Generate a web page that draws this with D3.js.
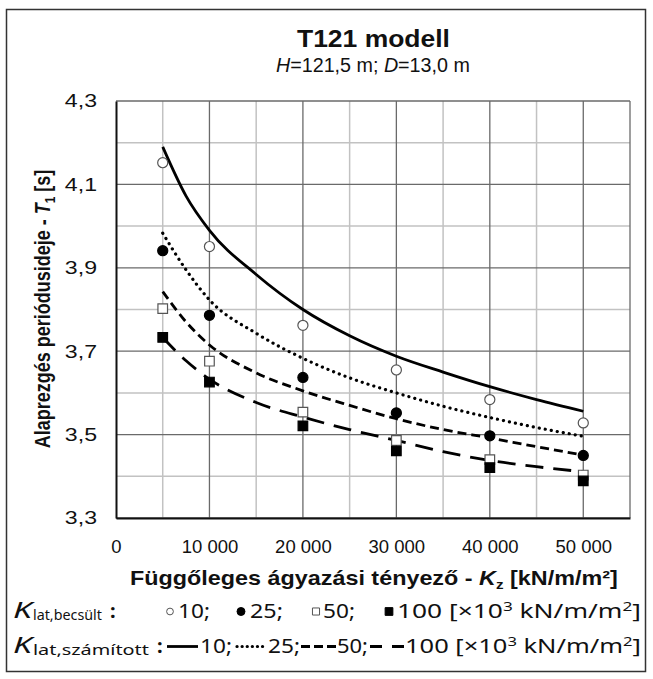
<!DOCTYPE html>
<html>
<head>
<meta charset="utf-8">
<script src="https://cdn.jsdelivr.net/npm/d3@7"></script>
<style>
  body { margin: 0; background: #fff; }
  text { font-family: "Liberation Sans", Arial, sans-serif; fill: #111; }
  .leg text { font-family: "Noto Sans", "Open Sans", sans-serif; }
</style>
</head>
<body>
<div id="chart"></div>
<script>
// measured points (K_lat,becsült)
const kzPoints = [5000, 10000, 20000, 30000, 40000, 50000];
const est10  = [4.152, 3.951, 3.762, 3.655, 3.584, 3.528];
const est25  = [3.941, 3.786, 3.637, 3.552, 3.497, 3.450];
const est50  = [3.802, 3.676, 3.554, 3.486, 3.440, 3.403];
const est100 = [3.733, 3.626, 3.521, 3.461, 3.421, 3.389];

// calculated curves (K_lat,számított)
const kzCurve = [5000, 7500, 10000, 15000, 20000, 25000, 30000, 35000, 40000, 45000, 50000];
const calc10  = [4.190, 4.072, 3.990, 3.884, 3.800, 3.737, 3.688, 3.650, 3.615, 3.584, 3.556];
const calc25  = [3.983, 3.895, 3.823, 3.743, 3.683, 3.636, 3.600, 3.568, 3.541, 3.517, 3.496];
const calc50  = [3.843, 3.770, 3.715, 3.648, 3.605, 3.570, 3.538, 3.512, 3.492, 3.471, 3.451];
const calc100 = [3.733, 3.677, 3.633, 3.577, 3.542, 3.512, 3.486, 3.459, 3.438, 3.423, 3.411];

const xTickValues = [0, 10000, 20000, 30000, 40000, 50000];
const xTickLabels = ["0", "10 000", "20 000", "30 000", "40 000", "50 000"];
const yTickValues = [3.3, 3.5, 3.7, 3.9, 4.1, 4.3];
const yTickLabels = ["3,3", "3,5", "3,7", "3,9", "4,1", "4,3"];
const legendValues = ["10;", "25;", "50;", "100"];

const W = 653, H = 679;
const svg = d3.select("#chart").append("svg")
    .attr("width", W)
    .attr("height", H)

// stretch a text horizontally so it covers x0..x1
function fit(sel, x0, x1, yy) {
  const w = sel.node().getComputedTextLength()
  sel.attr("x", 0).attr("y", 0)
     .attr("transform", `translate(${x0}, ${yy}) scale(${(x1 - x0) / w}, 1)`)
  return sel
}

// outer frame
svg.append("rect")
    .attr("x", 6.5).attr("y", 9.5)
    .attr("width", 639).attr("height", 662)
    .attr("fill", "none").attr("stroke", "#333").attr("stroke-width", 1.5)

const x = d3.scaleLinear().domain([0, 55000]).range([116, 630])
const y = d3.scaleLinear().domain([3.3, 4.3]).range([518, 101])

// grid: minor then major
const g = svg.append("g")
g.selectAll(".vminor").data(d3.range(5000, 55000, 10000)).enter().append("line")
    .attr("x1", d => x(d)).attr("x2", d => x(d)).attr("y1", y(3.3)).attr("y2", y(4.3))
    .attr("stroke", "#c2c2c2").attr("stroke-width", 1.5)
g.selectAll(".hminor").data(d3.range(3.4, 4.3, 0.2)).enter().append("line")
    .attr("y1", d => y(d)).attr("y2", d => y(d)).attr("x1", x(0)).attr("x2", x(55000))
    .attr("stroke", "#c2c2c2").attr("stroke-width", 1.5)
g.selectAll(".vmajor").data([10000, 20000, 30000, 40000, 50000, 55000]).enter().append("line")
    .attr("x1", d => x(d)).attr("x2", d => x(d)).attr("y1", y(3.3)).attr("y2", y(4.3))
    .attr("stroke", "#6a6a6a").attr("stroke-width", 1.3)
g.selectAll(".hmajor").data(yTickValues).enter().append("line")
    .attr("y1", d => y(d)).attr("y2", d => y(d)).attr("x1", x(0)).attr("x2", x(55000))
    .attr("stroke", "#6a6a6a").attr("stroke-width", 1.3)

// axes
const xAxisCall = d3.axisBottom(x)
    .tickValues(xTickValues)
    .tickSize(0)
    .tickFormat((d, i) => xTickLabels[i])
svg.append("g")
    .attr("class", "x axis")
    .attr("transform", `translate(0, ${y(3.3)})`)
    .call(xAxisCall)
    .call(a => a.select(".domain").attr("stroke", "#111").attr("stroke-width", 2))
    .selectAll("text")
    .attr("y", 22)
    .attr("font-size", 18.5)
    .attr("font-family", "Liberation Sans, Arial, sans-serif")
    .attr("fill", "#111")

const yAxisCall = d3.axisLeft(y)
    .tickValues(yTickValues)
    .tickSize(0)
    .tickFormat((d, i) => yTickLabels[i])
svg.append("g")
    .attr("class", "y axis")
    .attr("transform", `translate(${x(0)}, 0)`)
    .call(yAxisCall)
    .call(a => a.select(".domain").attr("stroke", "#111").attr("stroke-width", 2))
    .selectAll("text")
    .attr("x", 0)
    .attr("transform", "translate(-19, 0) scale(1.25, 1)")
    .attr("font-size", 18.5)
    .attr("font-family", "Liberation Sans, Arial, sans-serif")
    .attr("fill", "#111")

// calculated curves
const curves = [
  { vals: calc10,  dash: null,    cap: "butt",  w: 2.8, legDash: null },
  { vals: calc25,  dash: "0.1 6", cap: "round", w: 3.2, legDash: "0.1 5" },
  { vals: calc50,  dash: "9 5",   cap: "butt",  w: 2.8, legDash: "9 4" },
  { vals: calc100, dash: "18 10", cap: "butt",  w: 2.8, legDash: "12 10" }
]
const line = d3.line()
    .x((d, i) => x(kzCurve[i]))
    .y(d => y(d))
    .curve(d3.curveMonotoneX)
svg.selectAll(".curve").data(curves).enter().append("path")
    .attr("d", d => line(d.vals))
    .attr("fill", "none")
    .attr("stroke", "#000")
    .attr("stroke-width", d => d.w)
    .attr("stroke-dasharray", d => d.dash)
    .attr("stroke-linecap", d => d.cap)

// measured markers
const markerSets = [
  { vals: est10,  shape: d3.symbolCircle, size: 80, legSize: 36, fill: "#fff" },
  { vals: est25,  shape: d3.symbolCircle, size: 80, legSize: 50, fill: "#000" },
  { vals: est50,  shape: d3.symbolSquare, size: 92, legSize: 50, fill: "#fff" },
  { vals: est100, shape: d3.symbolSquare, size: 92, legSize: 60, fill: "#000" }
]
markerSets.forEach(m => {
  svg.append("g").selectAll("path").data(m.vals).enter().append("path")
      .attr("transform", (d, i) => `translate(${x(kzPoints[i])}, ${y(d)})`)
      .attr("d", d3.symbol().type(m.shape).size(m.size))
      .attr("fill", m.fill)
      .attr("stroke", m.fill === "#fff" ? "#555" : "#000")
      .attr("stroke-width", 1.2)
})

// titles
fit(svg.append("text")
    .attr("font-size", 24).attr("font-weight", "bold")
    .text("T121 modell"), 297, 450, 47)
const sub = svg.append("text")
    .attr("font-size", 19.5)
sub.append("tspan").attr("font-style", "italic").text("H")
sub.append("tspan").text("=121,5 m; ")
sub.append("tspan").attr("font-style", "italic").text("D")
sub.append("tspan").text("=13,0 m")
fit(sub, 276, 470, 72)

// axis titles
const yt = svg.append("text")
    .attr("transform", "translate(50, 309) scale(1.2, 1) rotate(-90)")
    .attr("text-anchor", "middle")
    .attr("font-size", 18).attr("font-weight", "bold")
yt.append("tspan").text("Alaprezgés periódusideje - ")
yt.append("tspan").attr("font-style", "italic").text("T")
yt.append("tspan").attr("font-size", 12).attr("dy", 4).text("1")
yt.append("tspan").attr("dy", -4).text(" [s]")

const xt = svg.append("text")
    .attr("font-size", 20).attr("font-weight", "bold")
xt.append("tspan").text("Függőleges ágyazási tényező - ")
xt.append("tspan").attr("font-style", "italic").text("K")
xt.append("tspan").attr("font-size", 13).attr("dy", 4).text("z")
xt.append("tspan").attr("dy", -4).text(" [kN/m/m²]")
fit(xt, 130, 618, 585)

// legend
const leg = svg.append("g").attr("class", "leg")
function piece(x0, x1, yy, label) {
  const t = leg.append("text").attr("font-size", 20)
  t.append("tspan").text(label)
  if (label === "100") {
    t.append("tspan").text(" [×10")
    t.append("tspan").attr("font-size", 13).attr("dy", -7).text("3")
    t.append("tspan").attr("dy", 7).text(" kN/m/m")
    t.append("tspan").attr("font-size", 13).attr("dy", -7).text("2")
    t.append("tspan").attr("dy", 7).text("]")
  }
  fit(t, x0, x1, yy)
}
function klabel(yy, sub, subEnd, colonX) {
  fit(leg.append("text").attr("font-size", 21)
      .attr("font-style", "italic").text("K"), 13, 32, yy)
  fit(leg.append("text").attr("font-size", 14).text(sub), 33, subEnd, yy + 2)
  leg.append("text").attr("x", colonX).attr("y", yy).attr("font-size", 20)
      .attr("font-weight", "bold").text(":")
}
const r1 = 618, r2 = 653
klabel(r1, "lat,becsült", 102, 110)
klabel(r2, "lat,számított", 149, 157)

const legPts = [
  { px: 170, tx: [178, 210] },
  { px: 241, tx: [250, 283] },
  { px: 316, tx: [323, 355] },
  { px: 389, tx: [397, 641] }
]
legPts.forEach((p, i) => {
  const m = markerSets[i]
  leg.append("path")
      .attr("transform", `translate(${p.px}, ${r1 - 6.5})`)
      .attr("d", d3.symbol().type(m.shape).size(m.legSize))
      .attr("fill", m.fill)
      .attr("stroke", m.fill === "#fff" ? "#555" : "#000")
      .attr("stroke-width", 1)
  piece(p.tx[0], p.tx[1], r1, legendValues[i])
})

const legLines = [
  { x1: 167, x2: 198, tx: [200, 232] },
  { x1: 237, x2: 266, tx: [268, 300] },
  { x1: 301, x2: 336, tx: [337, 368] },
  { x1: 370, x2: 404, tx: [405, 641] }
]
legLines.forEach((p, i) => {
  const c = curves[i]
  leg.append("line")
      .attr("x1", p.x1).attr("x2", p.x2).attr("y1", r2 - 6.5).attr("y2", r2 - 6.5)
      .attr("stroke", "#000").attr("stroke-width", c.w)
      .attr("stroke-dasharray", c.legDash)
      .attr("stroke-linecap", c.cap)
  piece(p.tx[0], p.tx[1], r2, legendValues[i])
})
</script>
</body>
</html>
